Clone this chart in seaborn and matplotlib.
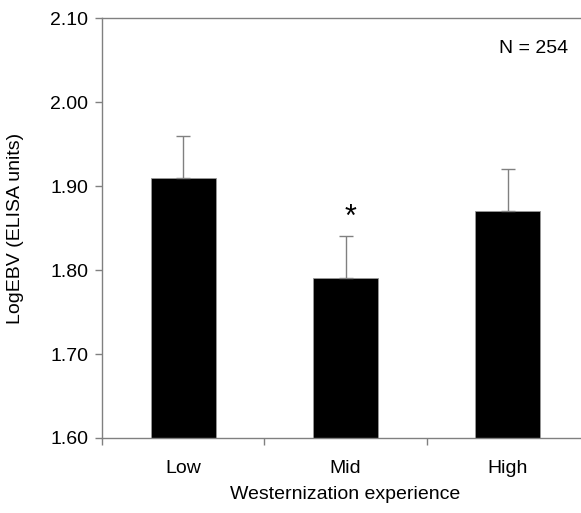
import matplotlib.pyplot as plt
import seaborn as sns
import numpy as np
import pandas as pd

groups = ['Low', 'Mid', 'High']
means = [1.91, 1.79, 1.87]
sems = [0.05, 0.05, 0.05]
yticks = [1.60, 1.70, 1.80, 1.90, 2.00, 2.10]

sns.set_style('white')
plt.rcParams['font.family'] = ['Liberation Sans', 'DejaVu Sans']
plt.rcParams['text.color'] = 'black'
plt.rcParams['axes.labelcolor'] = 'black'
plt.rcParams['xtick.color'] = 'black'
plt.rcParams['ytick.color'] = 'black'
fs = 14

fig = plt.figure(figsize=(5.81, 5.13), dpi=100)
ax = fig.add_axes([0.1756, 0.1462, 0.8382, 0.8187])

df = pd.DataFrame({'group': groups, 'mean': means})
sns.barplot(data=df, x='group', y='mean', color='black', width=0.4,
            errorbar=None, edgecolor='#999999', linewidth=0.6, ax=ax,
            saturation=1)

# one-sided (upper) error bars
x = np.arange(len(groups))
ax.errorbar(x, means, yerr=[np.zeros(len(sems)), sems], fmt='none',
            ecolor='#808080', elinewidth=1.0, capsize=5, capthick=1.0,
            zorder=1)

ax.set_ylim(1.60, 2.10)
ax.set_xlim(-0.5, 2.5)
ax.set_yticks(yticks)
ax.set_yticklabels([f'{v:.2f}' for v in yticks], fontsize=fs)
ax.set_xticks(x)
ax.set_xticklabels(groups, fontsize=fs)
ax.set_xticks([-0.5, 0.5, 1.5, 2.5], minor=True)
ax.tick_params(axis='x', which='major', length=0, pad=16)
ax.tick_params(axis='x', which='minor', length=5, color='#808080', width=1,
               direction='out', bottom=True)
ax.tick_params(axis='y', length=5, color='#808080', width=1, direction='out',
               left=True, pad=5, labelcolor='black')
ax.tick_params(axis='x', labelcolor='black')

for side in ['left', 'bottom', 'top']:
    ax.spines[side].set_color('#808080')
    ax.spines[side].set_linewidth(1)
ax.spines['right'].set_visible(False)

ax.set_xlabel('Westernization experience', fontsize=fs, labelpad=6)
ax.set_ylabel('LogEBV (ELISA units)', fontsize=fs, labelpad=19)

ax.text(1.03, 1.862, '*', ha='center', va='center', fontsize=22)
ax.text(2.16, 2.064, 'N = 254', ha='center', va='center', fontsize=fs)

fig.savefig('out.png', dpi=100)
